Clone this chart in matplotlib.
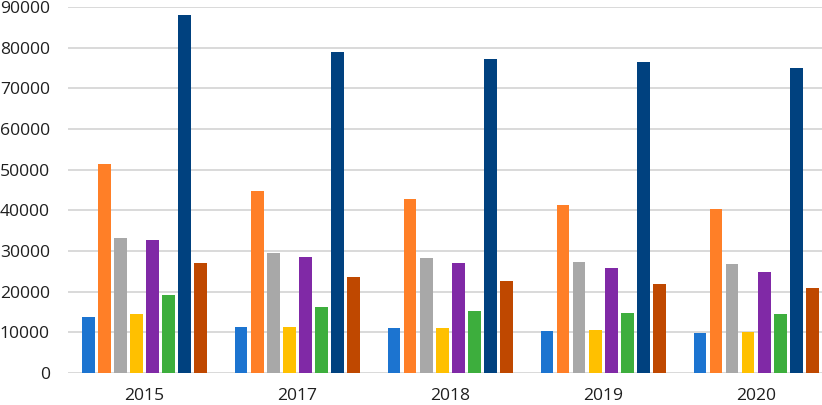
import matplotlib
matplotlib.use('Agg')
import matplotlib.pyplot as plt
import numpy as np

plt.rcParams['font.family'] = ['Open Sans', 'DejaVu Sans']

years = ['2015', '2017', '2018', '2019', '2020']

# eight series, one bar per series in each year
s1 = [13800, 11400, 11000, 10400, 9900]
s2 = [51500, 44800, 42700, 41300, 40300]
s3 = [33100, 29400, 28300, 27300, 26800]
s4 = [14500, 11400, 11000, 10600, 10100]
s5 = [32700, 28600, 27100, 25900, 24900]
s6 = [19200, 16300, 15300, 14800, 14400]
s7 = [88000, 79000, 77300, 76500, 74900]
s8 = [27100, 23700, 22600, 21800, 21000]

series = [s1, s2, s3, s4, s5, s6, s7, s8]
colors = ['#1c74d0', '#ff7f27', '#a8a8a8', '#ffc000',
          '#8029a6', '#3dae3d', '#00417f', '#bf4800']

fig = plt.figure(figsize=(8.22, 4.05), dpi=100)
ax = fig.add_axes([68 / 822, 1 - 373 / 405, 1 - 68 / 822, (373 - 7) / 405])

x = np.arange(len(years))
pitch = 0.105
width = 0.082
for i, (vals, c) in enumerate(zip(series, colors)):
    offs = (i - 3.5) * pitch
    ax.bar(x + offs, vals, width=width, color=c, zorder=3)

ax.set_ylim(0, 90000)
ax.set_yticks(np.arange(0, 90001, 10000))
ax.set_xlim(-0.5, 4.43)
ax.set_xticks(x)
ax.set_xticklabels(years)

ax.grid(axis='y', color='#d9d9d9', linewidth=1.4, zorder=0)
ax.grid(axis='x', visible=False)
for sp in ax.spines.values():
    sp.set_visible(False)
ax.tick_params(axis='both', length=0, labelsize=12.6, colors='#1f1f1f')
ax.tick_params(axis='y', pad=13)
ax.tick_params(axis='x', pad=11)

fig.savefig('out.png', dpi=100)
